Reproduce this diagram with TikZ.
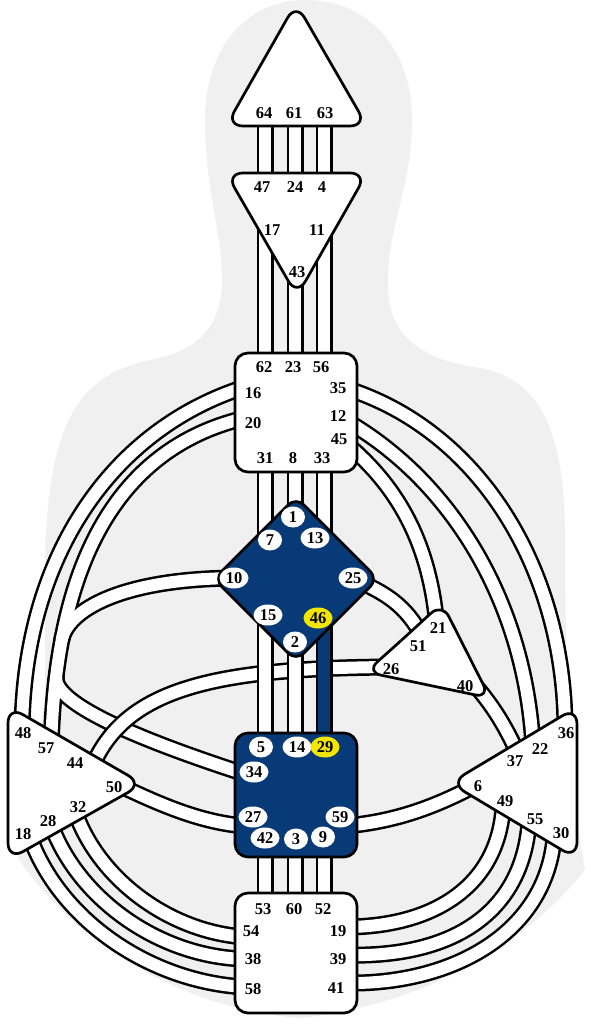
\documentclass[tikz,border=0pt]{standalone}
\usepackage{fontspec}
\setmainfont{Liberation Serif}
\usetikzlibrary{calc,shapes.geometric}
\definecolor{bodygray}{RGB}{240,240,240}
\definecolor{navy}{RGB}{8,58,120}
\definecolor{gateyellow}{RGB}{242,230,0}
\begin{document}
\begin{tikzpicture}[x=1pt,y=-1pt,
  ctr/.style={draw=black, line width=2.7pt, fill=white, rounded corners=13pt, line join=round},
  tri/.style={ctr, rounded corners=17pt},
  ch/.style={draw=black, line width=2.5pt, double=white, double distance=12pt},
  chblue/.style={draw=black, line width=2.5pt, double=navy, double distance=12pt},
  chout/.style={draw=black, line width=17pt},
  chin/.style={draw=white, line width=12pt},
  lbl/.style={font=\bfseries\fontsize{16.5}{16.5}\selectfont, inner sep=0pt},
  gateone/.style={lbl, ellipse, fill=white, minimum width=24pt, minimum height=21pt},
  gatetwo/.style={gateone, minimum width=29pt},
  gateyel/.style={gatetwo, fill=gateyellow},
]
\useasboundingbox (0,0) rectangle (590,1024);
\fill[white] (0,0) rectangle (590,1024);
% body silhouette
\fill[bodygray] (305,0) .. controls (370,0) and (412,50) .. (412,120)
  .. controls (412,190) and (385,230) .. (388,290)
  .. controls (390,335) and (420,360) .. (480,368)
  .. controls (545,380) and (565,440) .. (565,540)
  -- (567,760) -- (585,870)
  .. controls (520,950) and (420,1005) .. (300,1018)
  .. controls (190,1010) and (80,950) .. (18,858)
  -- (45,700) -- (45,560)
  .. controls (48,420) and (80,375) .. (150,360)
  .. controls (205,350) and (222,320) .. (222,280)
  .. controls (222,230) and (205,190) .. (205,120)
  .. controls (205,50) and (245,0) .. (305,0) -- cycle;

% channel end points
\coordinate (t16) at (245,387);
\coordinate (t20) at (245,418);
\coordinate (s48) at (22,742);
\coordinate (s57) at (51,752);
\coordinate (g10) at (240,578);
\coordinate (k34) at (245,774);
\coordinate (s44) at (92,767);
\coordinate (e26) at (392,667);
\coordinate (s50) at (100,776);
\coordinate (k27) at (245,826);
\coordinate (k59) at (345,826);
\coordinate (p6) at (478,784);
\coordinate (s18) at (30,837);
\coordinate (s28) at (52,827);
\coordinate (s32) at (76,814);
\coordinate (r58) at (245,987);
\coordinate (r38) at (245,959);
\coordinate (r54) at (245,937);
\coordinate (p49) at (503,807);
\coordinate (p55) at (529,822);
\coordinate (p30) at (554,838);
\coordinate (r19) at (345,927);
\coordinate (r39) at (345,955);
\coordinate (r41) at (345,983);
\coordinate (t35) at (345,388);
\coordinate (t12) at (345,420);
\coordinate (t45) at (348,445);
\coordinate (p36) at (565,730);
\coordinate (p22) at (533,747);
\coordinate (e21) at (437,628);
\coordinate (g25) at (360,582);
\coordinate (e51) at (425,642);
\coordinate (e40) at (463,672);
\coordinate (p37) at (518,754);

% integration group (20-57, 10, 34)
\path (t20) .. controls (130,445) and (55,545) .. coordinate[pos=0.80] (pa) coordinate[pos=0.81] (pb) coordinate[pos=0.87] (pc) coordinate[pos=0.88] (pd) (s57);
\draw[chout] (t20) .. controls (130,445) and (55,545) .. (s57);
\draw[chout] (g10) .. controls (120,578) and ($(pa)!-30pt!(pb)$) .. (pa);
\draw[chout] (pc) .. controls ($(pc)!25pt!(pd)$) and (125,735) .. (k34);
\draw[chin] (t20) .. controls (130,445) and (55,545) .. (s57);
\draw[chin] (g10) .. controls (120,578) and ($(pa)!-30pt!(pb)$) .. (pa);
\draw[chin] (pc) .. controls ($(pc)!25pt!(pd)$) and (125,735) .. (k34);

% 16-48
\draw[ch] (t16) .. controls (110,430) and (20,560) .. (s48);
% 44-26
\draw[ch] (s44) .. controls (125,690) and (210,668) .. (e26);
% 50-27
\draw[ch] (s50) .. controls (150,800) and (195,822) .. (k27);
% 59-6
\draw[ch] (k59) .. controls (390,822) and (430,810) .. (p6);
% spleen - root
\draw[ch] (s18) .. controls (60,920) and (150,982) .. (r58);
\draw[ch] (s28) .. controls (80,900) and (160,957) .. (r38);
\draw[ch] (s32) .. controls (100,880) and (170,932) .. (r54);
% solar plexus - root
\draw[ch] (p49) .. controls (498,885) and (435,927) .. (r19);
\draw[ch] (p55) .. controls (522,915) and (450,958) .. (r39);
\draw[ch] (p30) .. controls (545,935) and (450,985) .. (r41);
% throat - right
\draw[ch] (t35) .. controls (480,430) and (565,570) .. (p36);
\draw[ch] (t12) .. controls (450,480) and (525,600) .. (p22);
\draw[ch] (t45) .. controls (395,485) and (430,540) .. (e21);
% 25-51, 40-37
\draw[ch] (g25) .. controls (390,595) and (410,610) .. (e51);
\draw[ch] (e40) .. controls (490,700) and (505,725) .. (p37);

% vertical channels
\foreach \x/\n in {265/a,295/b,324/c}{
  \coordinate (hv\n) at (\x,115);
  \coordinate (av\n) at (\x,185);
  \coordinate (aw\n) at (\x,180);
  \coordinate (tv\n) at (\x,365);
  \coordinate (tw\n) at (\x,465);
  \coordinate (kw\n) at (\x,850);
  \coordinate (rv\n) at (\x,900);
  \draw[ch] (hv\n) -- (av\n);
  \draw[ch] (aw\n) -- (tv\n);
  \draw[ch] (kw\n) -- (rv\n);
}
\coordinate (gva) at (265,745);
\coordinate (gvb) at (295,745);
\coordinate (gvc) at (324,560);
\coordinate (g46) at (324,600);
\coordinate (k29) at (324,745);
\draw[ch] (twa) -- (gva);
\draw[ch] (twb) -- (gvb);
\draw[ch] (twc) -- (gvc);
\draw[chblue] (g46) -- (k29);

% centers
\draw[tri] (296,126) -- (367,126) -- (296,3) -- (226,126) -- cycle;
\draw[tri] (296,173) -- (367,173) -- (297,296) -- (226,173) -- cycle;
\draw[ctr] (235,353) rectangle (357,472);
\draw[ctr, fill=navy, rounded corners=11pt] (255,538) -- (296,497) -- (378,579) -- (296,661) -- (214,579) -- cycle;
\draw[ctr, fill=navy] (235,733) rectangle (357,857);
\draw[ctr] (235,893) rectangle (357,1013);
\draw[tri] (8,783) -- (8,706) -- (143,784) -- (8,860) -- cycle;
\draw[tri] (577,783) -- (577,859) -- (450,783) -- (577,707) -- cycle;
\draw[tri, rounded corners=15pt] (404,638) -- (442,603) -- (490,698) -- (366,672) -- cycle;

% head
\node[lbl] (n64) at (264,113) {64};
\node[lbl] (n61) at (294,113) {61};
\node[lbl] (n63) at (325,113) {63};
% ajna
\node[lbl] (n47) at (262,187) {47};
\node[lbl] (n24) at (295,187) {24};
\node[lbl] (n4) at (322,187) {4};
\node[lbl] (n17) at (272,230) {17};
\node[lbl] (n11) at (317,230) {11};
\node[lbl] (n43) at (297,272) {43};
% throat
\node[lbl] (n62) at (264,367) {62};
\node[lbl] (n23) at (293,367) {23};
\node[lbl] (n56) at (321,367) {56};
\node[lbl] (n16) at (253,393) {16};
\node[lbl] (n20) at (253,423) {20};
\node[lbl] (n35) at (338,388) {35};
\node[lbl] (n12) at (338,416) {12};
\node[lbl] (n45) at (339,439) {45};
\node[lbl] (n31) at (265,458) {31};
\node[lbl] (n8) at (293,458) {8};
\node[lbl] (n33) at (322,458) {33};
% G
\node[gateone] (n1) at (293,517) {1};
\node[gateone] (n7) at (270,540) {7};
\node[gatetwo] (n13) at (315,538) {13};
\node[gatetwo] (n10) at (234,578) {10};
\node[gatetwo] (n25) at (353,578) {25};
\node[gatetwo] (n15) at (268,615) {15};
\node[gateyel] (n46) at (318,618) {46};
\node[gateone] (n2) at (295,642) {2};
% sacral
\node[gateone] (n5) at (261,747) {5};
\node[gatetwo] (n14) at (297,747) {14};
\node[gateyel] (n29) at (325,747) {29};
\node[gatetwo] (n34) at (254,772) {34};
\node[gatetwo] (n27) at (253,817) {27};
\node[gatetwo] (n59) at (340,817) {59};
\node[gatetwo] (n42) at (265,838) {42};
\node[gateone] (n3) at (296,839) {3};
\node[gateone] (n9) at (323,837) {9};
% root
\node[lbl] (n53) at (263,909) {53};
\node[lbl] (n60) at (294,909) {60};
\node[lbl] (n52) at (323,909) {52};
\node[lbl] (n54) at (251,931) {54};
\node[lbl] (n38) at (253,959) {38};
\node[lbl] (n58) at (253,989) {58};
\node[lbl] (n19) at (338,931) {19};
\node[lbl] (n39) at (338,959) {39};
\node[lbl] (n41) at (336,988) {41};
% spleen
\node[lbl] (n48) at (23,733) {48};
\node[lbl] (n57) at (46,748) {57};
\node[lbl] (n44) at (75,763) {44};
\node[lbl] (n50) at (114,787) {50};
\node[lbl] (n32) at (78,807) {32};
\node[lbl] (n28) at (48,821) {28};
\node[lbl] (n18) at (23,834) {18};
% solar plexus
\node[lbl] (n36) at (566,733) {36};
\node[lbl] (n22) at (540,749) {22};
\node[lbl] (n37) at (515,761) {37};
\node[lbl] (n6) at (478,786) {6};
\node[lbl] (n49) at (505,801) {49};
\node[lbl] (n55) at (535,819) {55};
\node[lbl] (n30) at (561,833) {30};
% ego
\node[lbl] (n21) at (438,628) {21};
\node[lbl] (n51) at (418,646) {51};
\node[lbl] (n26) at (391,669) {26};
\node[lbl] (n40) at (465,686) {40};
\end{tikzpicture}
\end{document}
